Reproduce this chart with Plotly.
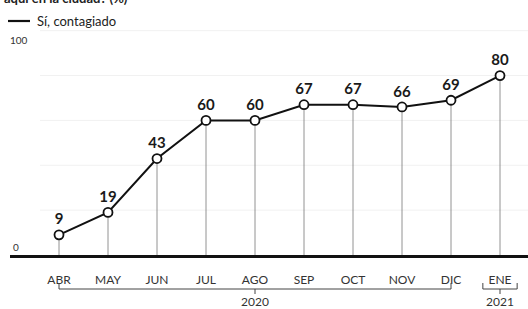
import plotly.graph_objects as go

months = ["ABR", "MAY", "JUN", "JUL", "AGO", "SEP", "OCT", "NOV", "DIC", "ENE"]
values = [9, 19, 43, 60, 60, 67, 67, 66, 69, 80]
series_name = "Sí, contagiado"
y_ticks = [0, 100]
grid_vals = [20, 40, 60, 80, 100]
year_groups = [("2020", 0, 8), ("2021", 9, 9)]
title_text = "aquí en la ciudad? (%)"

x_idx = list(range(len(months)))
FONT = "Lato"

L, T, B = 10, 15, 54
W, H = 528 - L, 309 - T - B
BOTTOM = 309 - B


def px(rx):
    return (rx - L) / W


def py(ry):
    return (BOTTOM - ry) / H


fig = go.Figure()
fig.add_trace(go.Scatter(
    x=x_idx, y=values, mode="lines+markers+text",
    text=[str(v) for v in values], textposition="top center",
    textfont=dict(family=FONT, size=15, color="#1a1a1a", weight="bold"),
    line=dict(color="#111", width=2),
    marker=dict(size=9, color="white", line=dict(color="#111", width=1.8)),
    error_y=dict(type="data", symmetric=False, array=[0] * len(values),
                 arrayminus=values, thickness=0.8, width=0, color="#777"),
    cliponaxis=False, showlegend=False, hoverinfo="skip",
))

shapes = []
for g in grid_vals:
    shapes.append(dict(type="line", xref="paper", yref="y", x0=px(40), x1=1, y0=g, y1=g,
                       line=dict(color="#f1f1f1", width=1), layer="below"))
for label, a, b in year_groups:
    xa, xb = (a - 0.35, b + 0.35) if a == b else (a, b)
    shapes.append(dict(type="path", xref="x", yref="paper",
                       path=f"M {xa},{py(283)} L {xa},{py(289)} L {xb},{py(289)} L {xb},{py(283)}",
                       line=dict(color="#444", width=1)))
    xm = (a + b) / 2
    shapes.append(dict(type="line", xref="x", yref="paper", x0=xm, x1=xm, y0=py(289), y1=py(294),
                       line=dict(color="#444", width=1)))
# legend line
shapes.append(dict(type="line", xref="paper", yref="paper", x0=px(8), x1=px(30), y0=py(21), y1=py(21),
                   line=dict(color="#111", width=2.2)))

annotations = []
for label, a, b in year_groups:
    annotations.append(dict(x=(a + b) / 2, y=py(301), xref="x", yref="paper", text=label,
                            showarrow=False, yanchor="middle",
                            font=dict(family=FONT, size=12, color="#333")))
tick_pos = {0: (11, 247), 100: (8, 40)}
for t in y_ticks:
    tx, ty = tick_pos[t]
    annotations.append(dict(x=px(tx), y=py(ty), xref="paper", yref="paper", text=str(t),
                            showarrow=False, xanchor="left", yanchor="middle",
                            font=dict(family=FONT, size=10, color="#333")))
annotations.append(dict(x=px(35), y=py(21), xref="paper", yref="paper", text=series_name,
                        showarrow=False, xanchor="left", yanchor="middle",
                        font=dict(family=FONT, size=13, color="#222")))
annotations.append(dict(x=px(2), y=py(-2), xref="paper", yref="paper", text=title_text,
                        showarrow=False, xanchor="left", yanchor="middle",
                        font=dict(family=FONT, size=13, color="#222", weight="bold")))

fig.update_layout(
    width=528, height=309,
    margin=dict(l=L, r=0, t=T, b=B),
    paper_bgcolor="white", plot_bgcolor="white",
    shapes=shapes, annotations=annotations, hovermode=False,
    xaxis=dict(range=[-1, -1 + W / 49.0], tickvals=x_idx, ticktext=months, showgrid=False,
               zeroline=False, showline=True, linecolor="#111", linewidth=2.5,
               ticks="", ticklabelstandoff=12,
               tickfont=dict(family=FONT, size=12, color="#333")),
    yaxis=dict(range=[0, 107], showgrid=False, zeroline=False, showticklabels=False,
               showline=False),
)

fig.write_html("out.html", config={"displayModeBar": False},
               post_script="document.body.style.margin='0';")
